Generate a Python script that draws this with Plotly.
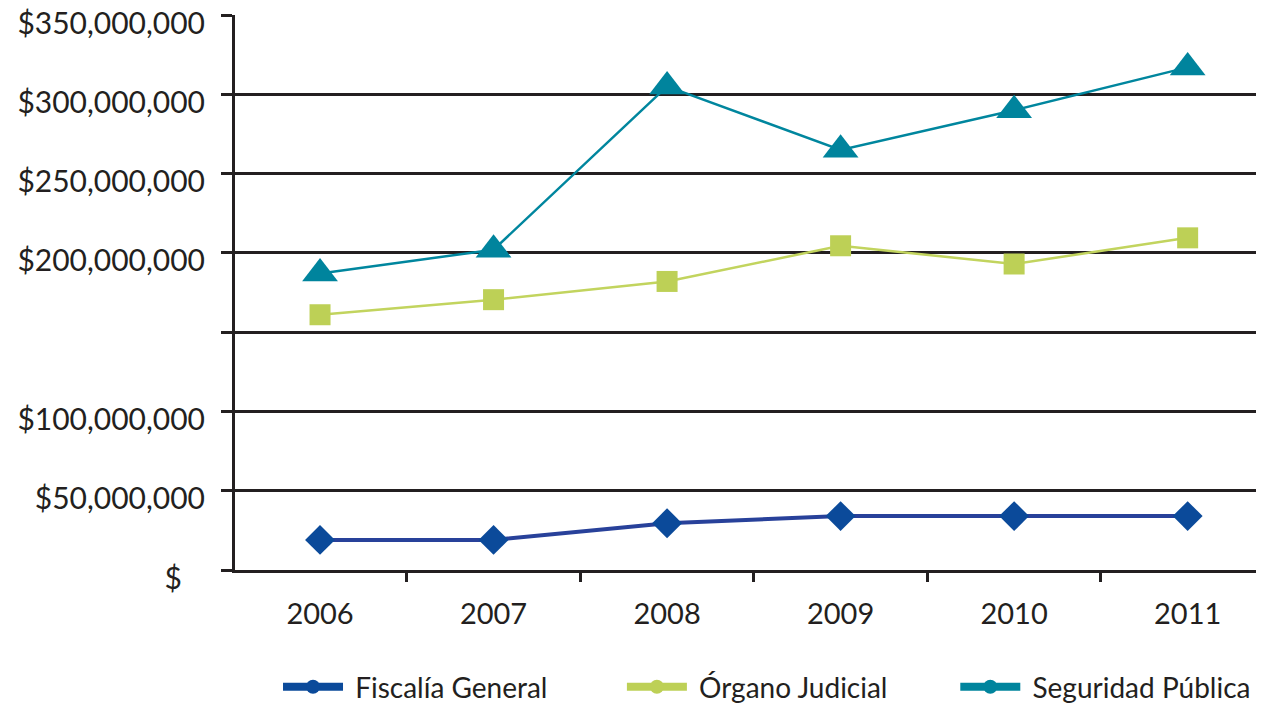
import plotly.graph_objects as go

years = ["2006", "2007", "2008", "2009", "2010", "2011"]
fiscalia = [19_000_000, 19_000_000, 29_500_000, 34_000_000, 34_000_000, 34_000_000]
organo = [161_000_000, 170_500_000, 182_000_000, 204_500_000, 193_000_000, 209_500_000]
seguridad = [187_000_000, 202_000_000, 305_000_000, 265_000_000, 290_000_000, 317_000_000]

series_names = ["Fiscalía General", "Órgano Judicial", "Seguridad Pública"]
line_colors = ["#28419a", "#c2d45e", "#00869e"]
marker_colors = ["#0b4a9a", "#bdd056", "#00849d"]
markers = ["diamond", "square", "triangle-up"]
marker_sizes = [23, 21, 31]
line_widths = [4, 2.5, 2.5]
legend_ids = ["legend", "legend2", "legend3"]
legend_x = [0.0418, 0.376, 0.700]

y_tickvals = [0, 50e6, 100e6, 150e6, 200e6, 250e6, 300e6, 350e6]
y_ticktext = ["$" + "\u00a0" * 3, "$50,000,000", "$100,000,000", "", "$200,000,000",
              "$250,000,000", "$300,000,000", "$350,000,000"]

FONT = "Lato, 'Open Sans', sans-serif"
INK = "#231f20"

fig = go.Figure()
for name, vals, lc, mc, sym, ms, lw, lid in zip(series_names, [fiscalia, organo, seguridad],
                                                line_colors, marker_colors, markers,
                                                marker_sizes, line_widths, legend_ids):
    fig.add_trace(go.Scatter(x=years, y=vals, mode="lines+markers", name=name,
                             line=dict(color=lc, width=lw),
                             marker=dict(symbol=sym, size=ms, color=mc, line=dict(width=0)),
                             showlegend=False, cliponaxis=False))
    fig.add_trace(go.Scatter(x=[None], y=[None], mode="lines+markers", name="\u00a0" + name,
                             line=dict(color=mc, width=8),
                             marker=dict(symbol="circle", size=14, color=mc),
                             showlegend=True, legend=lid))

legend_common = dict(orientation="h", xanchor="left", y=-0.211, yanchor="middle",
                     font=dict(size=28, family=FONT, color=INK), itemwidth=60,
                     bgcolor="rgba(0,0,0,0)")

fig.update_layout(
    width=1256, height=698,
    margin=dict(l=227, r=0, t=7, b=136, autoexpand=False),
    paper_bgcolor="white", plot_bgcolor="white",
    font=dict(family=FONT, color=INK, size=28),
    xaxis=dict(type="category", range=[-0.49, 5.44], showgrid=False, automargin=False,
               showline=True, linecolor=INK, linewidth=3,
               ticks="outside", tickson="boundaries", ticklen=9, tickwidth=3, tickcolor=INK,
               tickfont=dict(size=29, family=FONT, color=INK), ticklabelstandoff=16),
    yaxis=dict(range=[0, 350.05e6], tickvals=y_tickvals, ticktext=y_ticktext, automargin=False,
               showgrid=True, gridcolor=INK, gridwidth=3, zeroline=False,
               showline=True, linecolor=INK, linewidth=3, ticklabeloverflow="allow",
               ticks="outside", ticklen=11, tickwidth=3, tickcolor=INK,
               tickfont=dict(size=30, family=FONT, color=INK),
               ticklabelstandoff=10, ticklabelshift=8),
    legend=dict(x=legend_x[0], **legend_common),
    legend2=dict(x=legend_x[1], **legend_common),
    legend3=dict(x=legend_x[2], **legend_common),
)

fig.write_html("out.html")
